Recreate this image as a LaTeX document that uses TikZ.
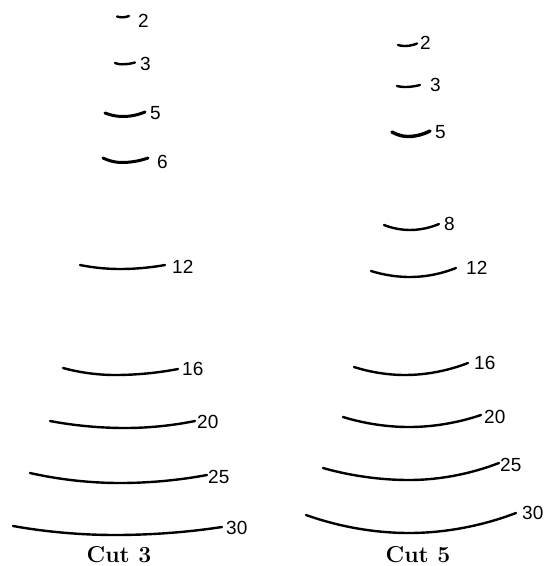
\documentclass[tikz,border=0pt]{standalone}
\usepackage{fontspec}
\newfontfamily\numfont{Liberation Sans}

\begin{document}
\begin{tikzpicture}[
    x=1pt, y=-1pt,
    every node/.style={inner sep=0pt},
    cutline/.style={line width=2.4pt, line cap=round},
    heavy/.style={line width=3pt},
    num/.style={font=\numfont\fontsize{19}{21}\selectfont, anchor=west},
    cuttitle/.style={font=\fontsize{23}{25}\selectfont\bfseries, anchor=base},
  ]
  \useasboundingbox (0,0) rectangle (551,566);

  % Cut 3
  \draw[cutline] (117,16.5) parabola bend (122,17.3) (129,16);
  \node[num] (l2) at (138,21) {2};
  \draw[cutline] (115,63) parabola bend (122,64.3) (135,62.5);
  \node[num] (l3) at (140,64) {3};
  \draw[cutline,heavy] (105,113) parabola bend (123,116.5) (145,112);
  \node[num] (l5) at (150,113) {5};
  \draw[cutline,heavy] (103,158) parabola bend (122,162.5) (148,158);
  \node[num] (l6) at (157,162) {6};
  \draw[cutline] (80,265) parabola bend (120,269) (165,265);
  \node[num] (l12) at (172,267) {12};
  \draw[cutline] (63,368) parabola bend (115,375) (178,369);
  \node[num] (l16) at (182,369) {16};
  \draw[cutline] (50,421) parabola bend (125,428) (195,421);
  \node[num] (l20) at (197,422) {20};
  \draw[cutline] (30,473) parabola bend (120,483) (207,475);
  \node[num] (l25) at (208,477) {25};
  \draw[cutline] (13,526) parabola bend (115,535) (222,527);
  \node[num] (l30) at (226,528) {30};
  \node[cuttitle] (lcut) at (119,562) {Cut 3};

  % Cut 5
  \draw[cutline] (398,45) parabola bend (405,46) (417,43.5);
  \node[num] (r2) at (420,43) {2};
  \draw[cutline] (397,86) parabola bend (405,87) (420,85);
  \node[num] (r3) at (430,85) {3};
  \draw[cutline,line width=3.4pt] (392,132) parabola bend (408,136.5) (430,131);
  \node[num] (r5) at (435,132) {5};
  \draw[cutline] (384,225) parabola bend (410,230) (439,224);
  \node[num] (r8) at (444,224) {8};
  \draw[cutline] (371,271) parabola bend (410,277) (456,268);
  \node[num] (r12) at (466,268) {12};
  \draw[cutline] (354,367) parabola bend (405,375) (468,363);
  \node[num] (r16) at (474,363) {16};
  \draw[cutline] (343,417) parabola bend (409,427) (481,415);
  \node[num] (r20) at (484,417) {20};
  \draw[cutline] (323,468) parabola bend (409,480) (499,463);
  \node[num] (r25) at (500,465) {25};
  \draw[cutline] (306,515) parabola bend (409,533) (516,513);
  \node[num] (r30) at (522,513) {30};
  \node[cuttitle] (rcut) at (418,562) {Cut 5};
\end{tikzpicture}
\end{document}
